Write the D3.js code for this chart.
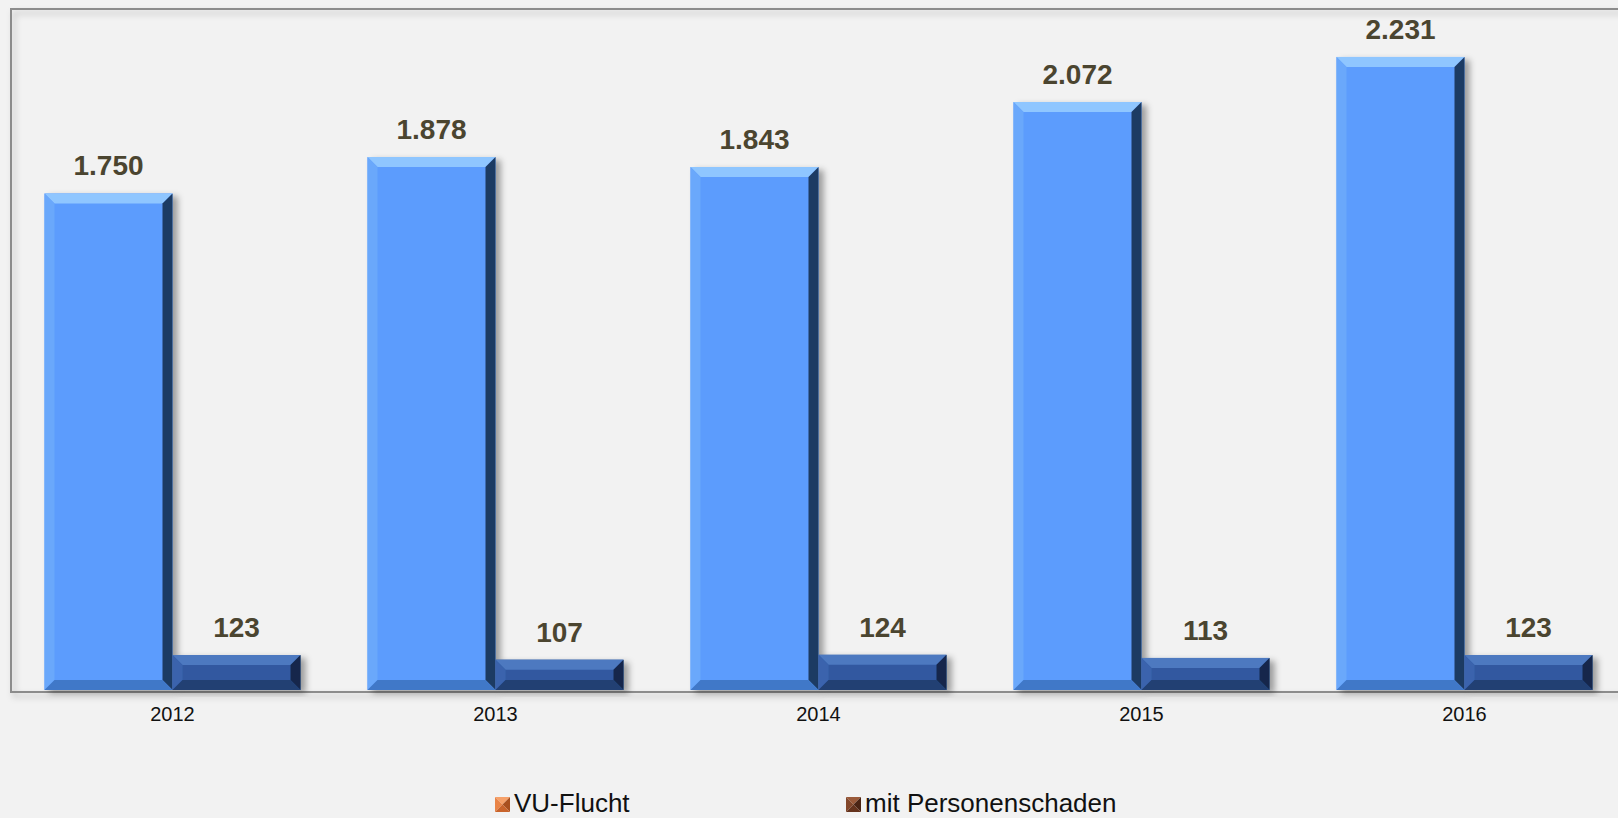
<!DOCTYPE html>
<html>
<head>
<meta charset="utf-8">
<script src="https://cdn.jsdelivr.net/npm/d3@7"></script>
<style>
  html, body { margin: 0; padding: 0; background: #f2f2f2; }
  svg { display: block; font-family: "Liberation Sans", Arial, Helvetica, sans-serif; }
</style>
</head>
<body>
<div id="chart"></div>
<script>
// values
let years = ["2012", "2013", "2014", "2015", "2016"];
let vuFlucht = [1750, 1878, 1843, 2072, 2231];
let mitPersonenschaden = [123, 107, 124, 113, 123];
let seriesNames = ["VU-Flucht", "mit Personenschaden"];

let svgWidth = 1618;
let svgHeight = 818;
let plot = { left: 11, top: 9, right: 1626, bottom: 692 };

let svg = d3.select("#chart")
    .append("svg")
    .attr("width", svgWidth)
    .attr("height", svgHeight);

let defs = svg.append("defs");
let shadow = defs.append("filter")
    .attr("id", "shadow")
    .attr("x", "-10%").attr("y", "-10%")
    .attr("width", "130%").attr("height", "130%");
shadow.append("feDropShadow")
    .attr("dx", 5).attr("dy", 3)
    .attr("stdDeviation", 3)
    .attr("flood-color", "#000")
    .attr("flood-opacity", 0.35);

let frameShadow = defs.append("filter")
    .attr("id", "frameShadow")
    .attr("x", "-5%").attr("y", "-5%")
    .attr("width", "110%").attr("height", "110%");
frameShadow.append("feDropShadow")
    .attr("dx", 3).attr("dy", 4)
    .attr("stdDeviation", 3)
    .attr("flood-color", "#000")
    .attr("flood-opacity", 0.25);

// scales
let xScale = d3.scaleBand()
    .domain(years)
    .range([plot.left, plot.right])
    .paddingInner(0.2074)
    .paddingOuter(0.1037);

let xInner = d3.scaleBand()
    .domain(seriesNames)
    .range([0, xScale.bandwidth()]);

let yScale = d3.scaleLinear()
    .domain([0, 2400])
    .range([plot.bottom - 2, plot.top]);

// plot frame
svg.append("path")
    .attr("d", `M${plot.right},${plot.top} L${plot.left},${plot.top} L${plot.left},${plot.bottom} L${plot.right},${plot.bottom}`)
    .attr("fill", "none")
    .attr("stroke", "#8c8c8c")
    .attr("stroke-width", 2)
    .attr("filter", "url(#frameShadow)");

let colors = {
    "VU-Flucht": { main: "#5c9cfd", top: "#8fc6ff", left: "#6aa8fb", right: "#1f3b63", bottom: "#3f78c8" },
    "mit Personenschaden": { main: "#3159a0", top: "#4d79c0", left: "#3a64ad", right: "#14284c", bottom: "#223f73" }
};

let rows = [];
years.forEach((y, i) => {
    rows.push({ year: y, key: seriesNames[0], value: vuFlucht[i] });
    rows.push({ year: y, key: seriesNames[1], value: mitPersonenschaden[i] });
});

let bev = 10;
let bars = svg.append("g")
    .selectAll("g")
    .data(rows)
    .enter()
    .append("g")
    .attr("filter", "url(#shadow)");

bars.each(function(d) {
    let g = d3.select(this);
    let x0 = xScale(d.year) + xInner(d.key);
    let x1 = x0 + xInner.bandwidth();
    let y0 = yScale(d.value);
    let y1 = yScale(0);
    let c = colors[d.key];
    let b = Math.min(bev, (y1 - y0) / 2);
    g.append("rect")
        .attr("x", x0).attr("y", y0)
        .attr("width", x1 - x0).attr("height", y1 - y0)
        .attr("fill", c.main);
    // bevel faces
    g.append("polygon")
        .attr("points", [[x0, y0], [x1, y0], [x1 - b, y0 + b], [x0 + b, y0 + b]].join(" "))
        .attr("fill", c.top);
    g.append("polygon")
        .attr("points", [[x0, y0], [x0 + b, y0 + b], [x0 + b, y1 - b], [x0, y1]].join(" "))
        .attr("fill", c.left);
    g.append("polygon")
        .attr("points", [[x1, y0], [x1, y1], [x1 - b, y1 - b], [x1 - b, y0 + b]].join(" "))
        .attr("fill", c.right);
    g.append("polygon")
        .attr("points", [[x0, y1], [x1, y1], [x1 - b, y1 - b], [x0 + b, y1 - b]].join(" "))
        .attr("fill", c.bottom);
});

// value labels
svg.append("g")
    .selectAll("text")
    .data(rows)
    .enter()
    .append("text")
    .attr("x", d => xScale(d.year) + xInner(d.key) + xInner.bandwidth() / 2)
    .attr("y", d => yScale(d.value) - 18)
    .attr("text-anchor", "middle")
    .attr("font-size", 28)
    .attr("font-weight", "bold")
    .attr("fill", "#4b4530")
    .text(d => d3.format(",")(d.value).replace(",", "."));

// x axis
let xAxis = d3.axisBottom(xScale).tickSize(0).tickPadding(15);
let axisG = svg.append("g")
    .attr("transform", `translate(0, ${plot.bottom})`)
    .call(xAxis);
axisG.select(".domain").remove();
axisG.selectAll("text")
    .attr("font-size", 20)
    .attr("font-family", "Liberation Sans, Arial, sans-serif")
    .attr("fill", "#111");

// legend
let legendColors = [
    { top: "#f6a16a", left: "#e98447", right: "#a9501f", bottom: "#c9642c" },
    { top: "#9a5a3a", left: "#83472b", right: "#4b2414", bottom: "#65331d" }
];
let legendX = [495, 846];
let legend = svg.append("g")
    .selectAll("g")
    .data(seriesNames)
    .enter()
    .append("g")
    .attr("transform", (d, i) => `translate(${legendX[i]}, 797)`);

legend.each(function(d, i) {
    let g = d3.select(this);
    let s = 15, h = s / 2;
    let c = legendColors[i];
    g.append("polygon").attr("points", `0,0 ${s},0 ${h},${h}`).attr("fill", c.top);
    g.append("polygon").attr("points", `0,0 ${h},${h} 0,${s}`).attr("fill", c.left);
    g.append("polygon").attr("points", `${s},0 ${s},${s} ${h},${h}`).attr("fill", c.right);
    g.append("polygon").attr("points", `0,${s} ${s},${s} ${h},${h}`).attr("fill", c.bottom);
    g.append("text")
        .attr("x", 19)
        .attr("y", 15)
        .attr("font-size", 26)
        .attr("fill", "#111")
        .text(d);
});
</script>
</body>
</html>
